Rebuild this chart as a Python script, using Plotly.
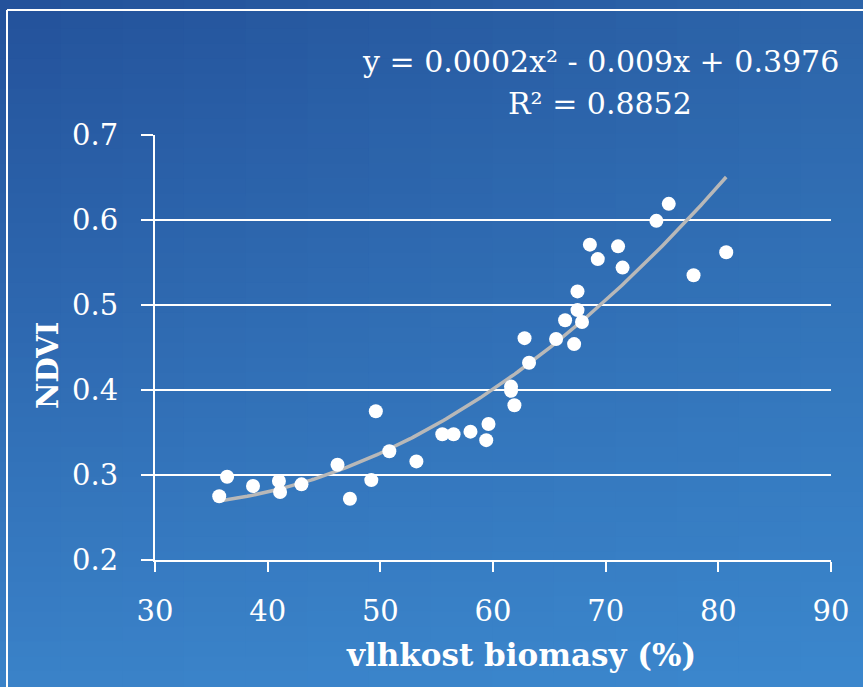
import numpy as np
import plotly.graph_objects as go

# Data
moisture = [35.7, 36.4, 38.7, 41.0, 41.1, 43.0, 46.2, 47.3, 49.2, 49.6, 50.8, 53.2,
            55.5, 56.5, 58.0, 59.4, 59.6, 61.6, 61.6, 61.9, 62.8, 63.2, 65.6, 66.4,
            67.2, 67.5, 67.5, 67.9, 68.6, 69.3, 71.1, 71.5, 74.5, 75.6, 77.8, 80.7]
ndvi = [0.275, 0.298, 0.287, 0.293, 0.280, 0.289, 0.312, 0.272, 0.294, 0.375, 0.328, 0.316,
        0.348, 0.348, 0.351, 0.341, 0.360, 0.404, 0.399, 0.382, 0.461, 0.432, 0.460, 0.482,
        0.454, 0.516, 0.494, 0.480, 0.571, 0.554, 0.569, 0.544, 0.599, 0.619, 0.535, 0.562]
x_ticks = [30, 40, 50, 60, 70, 80, 90]
y_ticks = [0.2, 0.3, 0.4, 0.5, 0.6, 0.7]
equation_text = "y = 0.0002x² - 0.009x + 0.3976"
r2_text = "R² = 0.8852"
x_title = "vlhkost biomasy (%)"
y_title = "NDVI"

# Quadratic trendline fitted to the points
coef = np.polyfit(moisture, ndvi, 2)
xs = np.linspace(min(moisture), max(moisture), 200)
ys = np.polyval(coef, xs)

W, H = 863, 687
L, R, T, B = 155, 32, 135, 127
pw, ph = W - L - R, H - T - B

def px2paper_x(px):
    return (px - L) / pw

def px2paper_y(py):
    return (H - B - py) / ph

# background gradient (bilinear between corner colours)
c_tl = np.array([35, 81, 154])
c_tr = np.array([44, 100, 169])
c_bl = np.array([58, 130, 200])
c_br = np.array([59, 135, 205])
shapes = []
ncol, nrow = 14, 46
for i in range(ncol):
    for j in range(nrow):
        u = (i + 0.5) / ncol
        v = (j + 0.5) / nrow
        c = (c_tl * (1 - u) * (1 - v) + c_tr * u * (1 - v) + c_bl * (1 - u) * v + c_br * u * v)
        col = "rgb(%d,%d,%d)" % tuple(np.round(c).astype(int))
        x0 = i * W / ncol - 1
        x1 = min((i + 1) * W / ncol + 1, W)
        y0 = j * H / nrow - 1
        y1 = min((j + 1) * H / nrow + 1, H)
        shapes.append(dict(type="rect", xref="paper", yref="paper",
                           x0=px2paper_x(max(x0, 0)), x1=px2paper_x(x1),
                           y0=px2paper_y(max(y0, 0)), y1=px2paper_y(y1),
                           fillcolor=col, line=dict(width=0), layer="below"))
# white frame (top and left edges visible)
shapes.append(dict(type="line", xref="paper", yref="paper",
                   x0=px2paper_x(7), x1=px2paper_x(W),
                   y0=px2paper_y(10), y1=px2paper_y(10),
                   line=dict(color="white", width=2), layer="below"))
shapes.append(dict(type="line", xref="paper", yref="paper",
                   x0=px2paper_x(7), x1=px2paper_x(7),
                   y0=px2paper_y(10), y1=px2paper_y(H),
                   line=dict(color="white", width=2), layer="below"))

fig = go.Figure()
fig.add_trace(go.Scatter(x=xs, y=ys, mode="lines",
                         line=dict(color="#b8b8b8", width=3.5), hoverinfo="skip"))
fig.add_trace(go.Scatter(x=moisture, y=ndvi, mode="markers",
                         marker=dict(color="white", size=14, line=dict(width=0))))

font_serif = "DejaVu Serif"
annotations = [
    dict(text=equation_text, xref="paper", yref="paper", x=px2paper_x(600), y=px2paper_y(62),
         xanchor="center", yanchor="middle", showarrow=False,
         font=dict(family=font_serif, size=30, color="white")),
    dict(text=r2_text, xref="paper", yref="paper", x=px2paper_x(600), y=px2paper_y(103),
         xanchor="center", yanchor="middle", showarrow=False,
         font=dict(family=font_serif, size=30, color="white")),
    dict(text="<b>" + x_title + "</b>", xref="paper", yref="paper", x=px2paper_x(521), y=px2paper_y(655),
         xanchor="center", yanchor="middle", showarrow=False,
         font=dict(family=font_serif, size=31, color="white")),
    dict(text="<b>" + y_title + "</b>", xref="paper", yref="paper", x=px2paper_x(48), y=px2paper_y(366),
         xanchor="center", yanchor="middle", showarrow=False, textangle=-90,
         font=dict(family=font_serif, size=29, color="white")),
]

fig.update_layout(
    width=W, height=H,
    margin=dict(l=L, r=R, t=T, b=B),
    paper_bgcolor="rgb(46,105,175)",
    plot_bgcolor="rgba(0,0,0,0)",
    showlegend=False,
    shapes=shapes,
    annotations=annotations,
    xaxis=dict(range=[30, 90], tickvals=x_ticks, ticks="outside", ticklen=10, tickwidth=2,
               tickcolor="white", showline=True, linecolor="white", linewidth=2,
               showgrid=False, zeroline=False, ticklabelstandoff=14,
               tickfont=dict(family=font_serif, size=29, color="white")),
    yaxis=dict(range=[0.2, 0.7], tickvals=y_ticks, tickformat=".1f", ticks="outside", ticklen=12,
               tickwidth=2, tickcolor="white", showline=True, linecolor="white", linewidth=2,
               showgrid=True, gridcolor="white", gridwidth=2, zeroline=False,
               ticklabelstandoff=17,
               tickfont=dict(family=font_serif, size=29, color="white")),
)

fig.write_html("out.html", config={"displayModeBar": False},
               post_script="document.body.style.margin='0';document.body.style.overflow='hidden';")
